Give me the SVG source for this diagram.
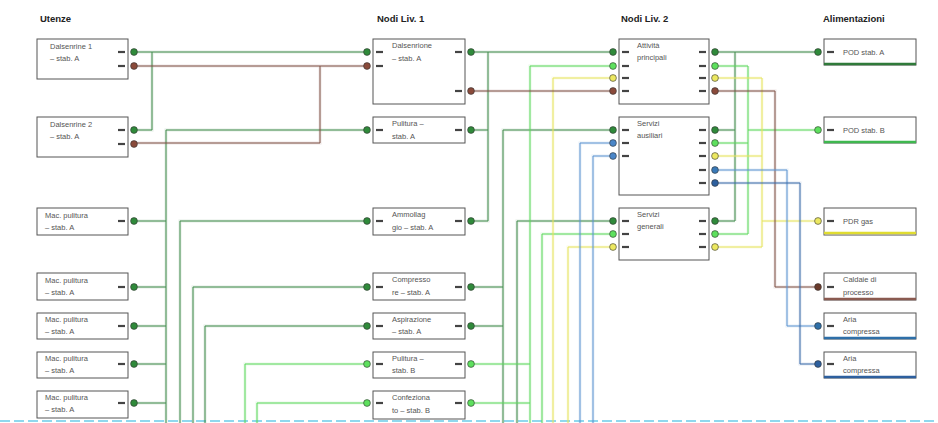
<svg xmlns="http://www.w3.org/2000/svg" width="938" height="423" viewBox="0 0 938 423">
<style>
.hdr{font-family:"Liberation Sans",Arial,sans-serif;font-size:9.5px;font-weight:bold;fill:#222}
.lbl{font-family:"Liberation Sans",Arial,sans-serif;font-size:7.5px;fill:#555}
.box{fill:#fff;stroke:#555;stroke-width:1}
.c{fill:none;stroke-width:1;stroke-linejoin:miter}
.h{fill:none;stroke-width:3;opacity:0.14}
.g{stroke:#3f8a4a}.lg{stroke:#5ad85a}.y{stroke:#e6e35a}.br{stroke:#7f5044}.b{stroke:#5a92d0}.db{stroke:#3a6aa8}
.dash{stroke:#444;stroke-width:2.2}
</style>
<defs>
<g id="pOut"><line class="dash" x1="-10" y1="0" x2="-3" y2="0"/><circle cx="6" cy="0" r="3.4" fill="currentColor" stroke="#333" stroke-width="0.6"/></g>
<g id="pIn"><circle cx="-6" cy="0" r="3.4" fill="currentColor" stroke="#333" stroke-width="0.6"/><line class="dash" x1="3" y1="0" x2="10" y2="0"/></g>
</defs>
<rect width="938" height="423" fill="#fff"/>
<line x1="0" y1="421" x2="938" y2="421" stroke="#8fd8ee" stroke-width="2" stroke-dasharray="10,4"/>
<text class="hdr" x="40" y="22">Utenze</text>
<text class="hdr" x="377" y="22">Nodi Liv. 1</text>
<text class="hdr" x="621" y="22">Nodi Liv. 2</text>
<text class="hdr" x="823" y="22">Alimentazioni</text>

<g id="connectors">
<g class="h g"><path d="M134,52 H367 M134,130 H152 V52 M134,221 H166 M134,287 H166 M134,326 H166 M134,364 H166 M134,403 H166 M166,423 V130 H367 M180,423 V221 H367 M193,423 V287 H367 M205,423 V326 H367 M471,52 H613 M471,130 H488 M471,221 H488 V52 M471,287 H503 M471,326 H503 M503,423 V130 H613 M517,423 V221 H613 M715,52 H818 M715,130 H735 M715,221 H735 M735,52 V221"/></g>
<g class="c g"><path d="M134,52 H367 M134,130 H152 V52 M134,221 H166 M134,287 H166 M134,326 H166 M134,364 H166 M134,403 H166 M166,423 V130 H367 M180,423 V221 H367 M193,423 V287 H367 M205,423 V326 H367 M471,52 H613 M471,130 H488 M471,221 H488 V52 M471,287 H503 M471,326 H503 M503,423 V130 H613 M517,423 V221 H613 M715,52 H818 M715,130 H735 M715,221 H735 M735,52 V221"/></g>
<g class="h lg"><path d="M245,423 V364 H367 M257,423 V403 H367 M471,364 H530 M471,403 H530 M530,423 V66 H613 M542,423 V234 H613 M715,66 H748 M715,143 H748 M715,234 H748 M748,66 V234 M748,130 H818"/></g>
<g class="c lg"><path d="M245,423 V364 H367 M257,423 V403 H367 M471,364 H530 M471,403 H530 M530,423 V66 H613 M542,423 V234 H613 M715,66 H748 M715,143 H748 M715,234 H748 M748,66 V234 M748,130 H818"/></g>
<g class="h y"><path d="M553,423 V78 H613 M568,423 V247 H613 M715,78 H762 M715,156 H762 M715,247 H762 M762,78 V247 M762,221 H818"/></g>
<g class="c y"><path d="M553,423 V78 H613 M568,423 V247 H613 M715,78 H762 M715,156 H762 M715,247 H762 M762,78 V247 M762,221 H818"/></g>
<g class="h br"><path d="M134,66 H367 M134,143 H320 V66 M471,91 H613 M715,91 H775 V287 H818"/></g>
<g class="c br"><path d="M134,66 H367 M134,143 H320 V66 M471,91 H613 M715,91 H775 V287 H818"/></g>
<g class="h b"><path d="M580,423 V143 H613 M593,423 V156 H613 M715,170 H787 V326 H818"/></g>
<g class="c b"><path d="M580,423 V143 H613 M593,423 V156 H613 M715,170 H787 V326 H818"/></g>
<g class="h db"><path d="M715,183 H800 V364 H818"/></g>
<g class="c db"><path d="M715,183 H800 V364 H818"/></g>
</g>

<g id="u1"><rect class="box" x="37" y="39" width="91" height="40"/><text class="lbl" x="50" y="49">Dalsenrine 1</text><text class="lbl" x="50" y="61">– stab. A</text><use href="#pOut" x="128" y="52" color="#2f8a3a"/><use href="#pOut" x="128" y="66" color="#8a4a3a"/></g>
<g id="u2"><rect class="box" x="37" y="117" width="91" height="40"/><text class="lbl" x="50" y="127">Dalsenrine 2</text><text class="lbl" x="50" y="139">– stab. A</text><use href="#pOut" x="128" y="130" color="#2f8a3a"/><use href="#pOut" x="128" y="144" color="#8a4a3a"/></g>
<g id="u3"><rect class="box" x="37" y="208" width="91" height="27"/><text class="lbl" x="45" y="218">Mac. pulitura</text><text class="lbl" x="45" y="230">– stab. A</text><use href="#pOut" x="128" y="221" color="#2f8a3a"/></g>
<g id="u4"><rect class="box" x="37" y="273" width="91" height="27"/><text class="lbl" x="45" y="283">Mac. pulitura</text><text class="lbl" x="45" y="295">– stab. A</text><use href="#pOut" x="128" y="287" color="#2f8a3a"/></g>
<g id="u5"><rect class="box" x="37" y="313" width="91" height="26"/><text class="lbl" x="45" y="322">Mac. pulitura</text><text class="lbl" x="45" y="334">– stab. A</text><use href="#pOut" x="128" y="326" color="#2f8a3a"/></g>
<g id="u6"><rect class="box" x="37" y="352" width="91" height="26"/><text class="lbl" x="45" y="361">Mac. pulitura</text><text class="lbl" x="45" y="373">– stab. A</text><use href="#pOut" x="128" y="364" color="#2f8a3a"/></g>
<g id="u7"><rect class="box" x="37" y="391" width="91" height="27"/><text class="lbl" x="45" y="400">Mac. pulitura</text><text class="lbl" x="45" y="412">– stab. A</text><use href="#pOut" x="128" y="403" color="#2f8a3a"/></g>

<g id="n1a"><rect class="box" x="373" y="39" width="92" height="65"/><text class="lbl" x="392" y="48">Dalsenrione</text><text class="lbl" x="392" y="61">– stab. A</text><use href="#pIn" x="373" y="52" color="#2f8a3a"/><use href="#pIn" x="373" y="66" color="#8a4a3a"/><use href="#pOut" x="465" y="52" color="#2f8a3a"/><use href="#pOut" x="465" y="91" color="#8a4a3a"/></g>
<g id="n1b"><rect class="box" x="373" y="117" width="92" height="26"/><text class="lbl" x="392" y="126">Pulitura –</text><text class="lbl" x="392" y="139">stab. A</text><use href="#pIn" x="373" y="130" color="#2f8a3a"/><use href="#pOut" x="465" y="130" color="#2f8a3a"/></g>
<g id="n1c"><rect class="box" x="373" y="208" width="92" height="27"/><text class="lbl" x="392" y="217">Ammollag</text><text class="lbl" x="392" y="230">gio – stab. A</text><use href="#pIn" x="373" y="221" color="#2f8a3a"/><use href="#pOut" x="465" y="221" color="#2f8a3a"/></g>
<g id="n1d"><rect class="box" x="373" y="273" width="92" height="27"/><text class="lbl" x="392" y="282">Compresso</text><text class="lbl" x="392" y="295">re – stab. A</text><use href="#pIn" x="373" y="287" color="#2f8a3a"/><use href="#pOut" x="465" y="287" color="#2f8a3a"/></g>
<g id="n1e"><rect class="box" x="373" y="313" width="92" height="26"/><text class="lbl" x="392" y="322">Aspirazione</text><text class="lbl" x="392" y="334">– stab. A</text><use href="#pIn" x="373" y="326" color="#2f8a3a"/><use href="#pOut" x="465" y="326" color="#2f8a3a"/></g>
<g id="n1f"><rect class="box" x="373" y="352" width="92" height="26"/><text class="lbl" x="392" y="361">Pulitura –</text><text class="lbl" x="392" y="373">stab. B</text><use href="#pIn" x="373" y="364" color="#5de05d"/><use href="#pOut" x="465" y="364" color="#5de05d"/></g>
<g id="n1g"><rect class="box" x="373" y="391" width="92" height="28"/><text class="lbl" x="392" y="400">Confeziona</text><text class="lbl" x="392" y="413">to – stab. B</text><use href="#pIn" x="373" y="403" color="#5de05d"/><use href="#pOut" x="465" y="403" color="#5de05d"/></g>

<g id="n2a"><rect class="box" x="619" y="39" width="90" height="65"/><text class="lbl" x="637" y="48">Attività</text><text class="lbl" x="637" y="60">principali</text><use href="#pIn" x="619" y="52" color="#2f8a3a"/><use href="#pIn" x="619" y="66" color="#5de05d"/><use href="#pIn" x="619" y="78" color="#ece860"/><use href="#pIn" x="619" y="91" color="#8a4a3a"/><use href="#pOut" x="709" y="52" color="#2f8a3a"/><use href="#pOut" x="709" y="66" color="#5de05d"/><use href="#pOut" x="709" y="78" color="#ece860"/><use href="#pOut" x="709" y="91" color="#8a4a3a"/></g>
<g id="n2b"><rect class="box" x="619" y="117" width="90" height="78"/><text class="lbl" x="637" y="126">Servizi</text><text class="lbl" x="637" y="138">ausiliari</text><use href="#pIn" x="619" y="130" color="#2f8a3a"/><use href="#pIn" x="619" y="143" color="#4a86c8"/><use href="#pIn" x="619" y="156" color="#4a86c8"/><use href="#pOut" x="709" y="130" color="#2f8a3a"/><use href="#pOut" x="709" y="143" color="#5de05d"/><use href="#pOut" x="709" y="156" color="#ece860"/><use href="#pOut" x="709" y="170" color="#3a7ab8"/><use href="#pOut" x="709" y="183" color="#2d5f9e"/></g>
<g id="n2c"><rect class="box" x="619" y="208" width="90" height="52"/><text class="lbl" x="637" y="217">Servizi</text><text class="lbl" x="637" y="229">generali</text><use href="#pIn" x="619" y="221" color="#2f8a3a"/><use href="#pIn" x="619" y="234" color="#5de05d"/><use href="#pIn" x="619" y="247" color="#ece860"/><use href="#pOut" x="709" y="221" color="#2f8a3a"/><use href="#pOut" x="709" y="234" color="#5de05d"/><use href="#pOut" x="709" y="247" color="#ece860"/></g>

<g id="a1"><rect class="box" x="824" y="39" width="92" height="26"/><line x1="824" y1="64" x2="916" y2="64" stroke="#2f7a3a" stroke-width="2.5"/><text class="lbl" x="843" y="55">POD stab. A</text><use href="#pIn" x="824" y="52" color="#2f8a3a"/></g>
<g id="a2"><rect class="box" x="824" y="117" width="92" height="26"/><line x1="824" y1="142" x2="916" y2="142" stroke="#3fb84f" stroke-width="2.5"/><text class="lbl" x="843" y="133">POD stab. B</text><use href="#pIn" x="824" y="130" color="#5de05d"/></g>
<g id="a3"><rect class="box" x="824" y="208" width="92" height="27"/><line x1="824" y1="233" x2="916" y2="233" stroke="#e0dc30" stroke-width="2.5"/><text class="lbl" x="843" y="224">PDR gas</text><use href="#pIn" x="824" y="221" color="#ece860"/></g>
<g id="a4"><rect class="box" x="824" y="273" width="92" height="27"/><line x1="824" y1="299" x2="916" y2="299" stroke="#8a5a50" stroke-width="2.5"/><text class="lbl" x="843" y="282">Caldaie di</text><text class="lbl" x="843" y="295">processo</text><use href="#pIn" x="824" y="287" color="#6a3a2a"/></g>
<g id="a5"><rect class="box" x="824" y="313" width="92" height="26"/><line x1="824" y1="338" x2="916" y2="338" stroke="#2e6fa8" stroke-width="2.5"/><text class="lbl" x="843" y="322">Aria</text><text class="lbl" x="843" y="334">compressa</text><use href="#pIn" x="824" y="326" color="#2e6fa8"/></g>
<g id="a6"><rect class="box" x="824" y="352" width="92" height="26"/><line x1="824" y1="377" x2="916" y2="377" stroke="#2d5f9e" stroke-width="2.5"/><text class="lbl" x="843" y="361">Aria</text><text class="lbl" x="843" y="373">compressa</text><use href="#pIn" x="824" y="364" color="#2d5f9e"/></g>
</svg>
